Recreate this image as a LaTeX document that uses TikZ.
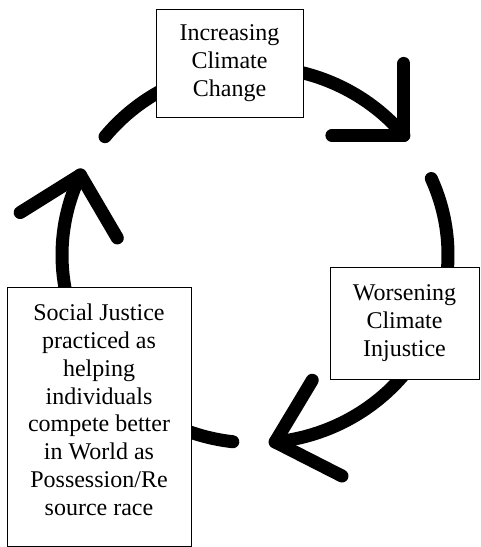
\documentclass[tikz,border=0pt]{standalone}
\usepackage{fontspec}
\setmainfont{Liberation Serif}

\tikzset{
  stage/.style={draw, fill=white, line width=0.8pt, align=center,
    font=\fontsize{24}{27.8}\selectfont, inner sep=0pt},
  loop arrow/.style={line width=13pt, line cap=round, line join=round},
}

\begin{document}
\begin{tikzpicture}[x=1pt, y=1pt]
  \useasboundingbox (0,0) rectangle (480,547);

  % Centre of the cycle
  \coordinate (centre) at (255,292);

  % Arrows of the cycle
  \draw[loop arrow] ([shift={(141:193 and 188)}]centre) arc [start angle=141, end angle=39.5, x radius=193, y radius=188] coordinate (tip1);
  \draw[loop arrow] ([shift={(90:72)}]tip1) -- (tip1) -- ++(180:72);

  \draw[loop arrow] ([shift={(24:193 and 188)}]centre) arc [start angle=24, end angle=-84, x radius=193, y radius=188] coordinate (tip2);
  \draw[loop arrow] ([shift={(59:72)}]tip2) -- (tip2) -- ++(-27:75);

  \draw[loop arrow] ([shift={(263.4:193 and 188)}]centre) arc [start angle=263.4, end angle=154.8, x radius=193, y radius=188] coordinate (tip3);
  \draw[loop arrow] ([shift={(212:71)}]tip3) -- (tip3) -- ++(-59.6:73);

  % Stages
  \node[stage, minimum width=147pt, minimum height=108pt] (climate) at (229.5,484) {Increasing\\Climate\\Change};
  \node[stage, minimum width=149pt, minimum height=112pt] (injustice) at (404.5,224) {Worsening\\Climate\\Injustice};
  \node[stage, minimum width=184pt, minimum height=259pt] (justice) at (99,130.5) {\raisebox{4pt}[\height][\depth]{\begin{tabular}{@{}c@{}}Social Justice\\practiced as\\helping\\individuals\\compete better\\in World as\\Possession/Re\\source race\end{tabular}}};

\end{tikzpicture}
\end{document}
